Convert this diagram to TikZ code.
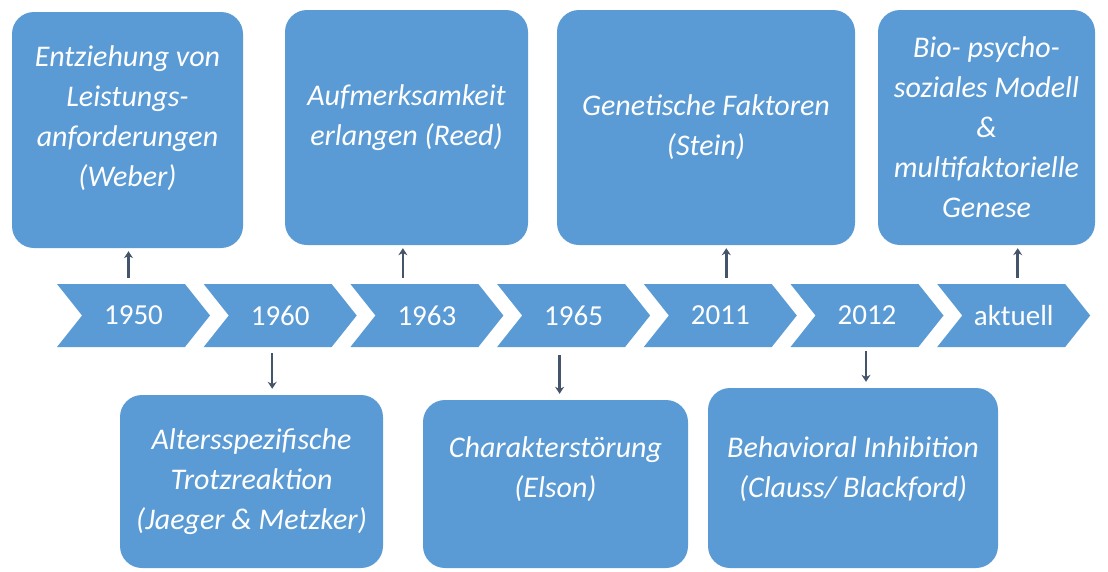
\documentclass[tikz,border=0pt]{standalone}
\usepackage{fontspec}
\setmainfont{Carlito}
\usetikzlibrary{shapes.symbols, arrows.meta}
\definecolor{boxblue}{HTML}{5B9BD5}
\definecolor{arrowgray}{HTML}{44546A}

\begin{document}
\begin{tikzpicture}[x=1pt, y=-1pt,
        box/.style = {fill=boxblue, rounded corners=22pt, inner sep=0pt, align=center, text=white, font=\fontsize{30}{40}\selectfont\itshape},
        year/.style = {signal, signal from=west, signal to=east, signal pointer angle=103, fill=boxblue, minimum width=153pt, minimum height=63pt, inner sep=0pt, text=white, font=\fontsize{29}{34}\selectfont},
        arr/.style = {-{Stealth[length=7pt, width=9pt]}, line width=2.5pt, arrowgray}]
        \useasboundingbox (0,0) rectangle (1108,571);

        % timeline
        \foreach \lbl [count=\i] in {1950,1960,1963,1965,2011,2012,aktuell}
            \node[year] (y\i) at ({133.5+146.7*(\i-1)},315.5) {\lbl};

        % boxes above
        \node[box, minimum width=231pt, minimum height=236pt] (t1) at (127.5,130) {Entziehung von\\Leistungs-\\anforderungen\\(Weber)\\[-12pt]\mbox{}};
        \node[box, minimum width=243pt, minimum height=235pt] (t2) at (406.5,127.5) {Aufmerksamkeit\\erlangen (Reed)\\[-16pt]\mbox{}};
        \node[box, minimum width=298pt, minimum height=235pt] (t3) at (706,127.5) {Genetische Faktoren\\(Stein)};
        \node[box, minimum width=217pt, minimum height=235pt] (t4) at (986.5,127.5) {Bio- psycho-\\soziales Modell\\\&\\multifaktorielle\\Genese};

        % boxes below
        \node[box, minimum width=263pt, minimum height=173pt] (b1) at (251.5,481.5) {Altersspezifische\\Trotzreaktion\\(Jaeger \& Metzker)};
        \node[box, minimum width=265pt, minimum height=168pt] (b2) at (555.5,484) {Charakterstörung\\(Elson)\\[-6pt]\mbox{}};
        \node[box, minimum width=290pt, minimum height=180pt] (b3) at (853,478) {Behavioral Inhibition\\(Clauss/ Blackford)\\[-18pt]\mbox{}};

        \draw[arr, shorten <=6pt, shorten >=3pt] ([xshift=-5pt]y1.north) -- ([xshift=-5pt]y1.north |- t1.south);
        \draw[arr, shorten <=6pt, shorten >=3pt] ([xshift=-24pt]y3.north) -- ([xshift=-24pt]y3.north |- t2.south);
        \draw[arr, shorten <=6pt, shorten >=3pt] ([xshift=6pt]y5.north) -- ([xshift=6pt]y5.north |- t3.south);
        \draw[arr, shorten <=6pt, shorten >=3pt] ([xshift=4pt]y7.north) -- ([xshift=4pt]y7.north |- t4.south);
        \draw[arr, shorten <=6pt, shorten >=6pt] ([xshift=-8pt]y2.south) -- ([xshift=-8pt]y2.south |- b1.north);
        \draw[arr, shorten <=8pt, shorten >=6pt] ([xshift=-14pt]y4.south) -- ([xshift=-14pt]y4.south |- b2.north);
        \draw[arr, shorten <=4pt, shorten >=6pt] ([xshift=-1pt]y6.south) -- ([xshift=-1pt]y6.south |- b3.north);
    \end{tikzpicture}
\end{document}
